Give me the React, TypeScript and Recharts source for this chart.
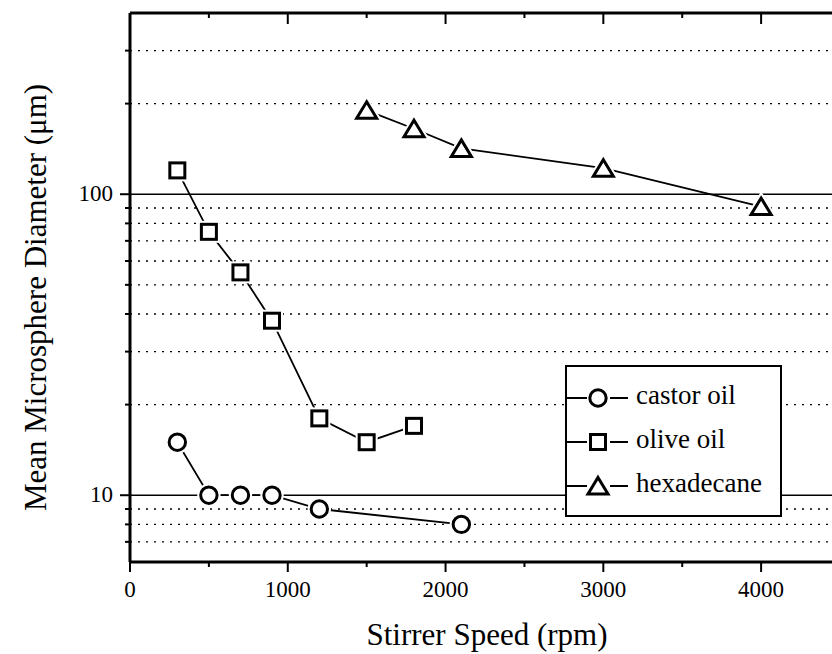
import React from "react";
import { LineChart, Line, XAxis, YAxis, ReferenceLine, Legend, Label } from "recharts";

// (log y axis)
const castorSpeed = [300, 500, 700, 900, 1200, 2100];
const castorDiameter = [15, 10, 10, 10, 9, 8];
const oliveSpeed = [300, 500, 700, 900, 1200, 1500, 1800];
const oliveDiameter = [120, 75, 55, 38, 18, 15, 17];
const hexSpeed = [1500, 1800, 2100, 3000, 4000];
const hexDiameter = [190, 165, 142, 122, 91];

const xTicks = [0, 500, 1000, 1500, 2000, 2500, 3000, 3500, 4000, 4500];
const xLabels = [0, 1000, 2000, 3000, 4000];
const yTicks = [7, 8, 9, 10, 20, 30, 40, 50, 60, 70, 80, 90, 100, 200, 300];
const yLabels = [10, 100];

const SERIF = "'Liberation Serif', 'Times New Roman', serif";
const INK = "#000";

const toPoints = (xs: number[], ys: number[]) => xs.map((x, i) => ({ x, y: ys[i] }));
const castor = toPoints(castorSpeed, castorDiameter);
const olive = toPoints(oliveSpeed, oliveDiameter);
const hexadecane = toPoints(hexSpeed, hexDiameter);

type Shape = "circle" | "square" | "triangle";

function MarkerShape({ shape, cx, cy, stroke, sw }: { shape: Shape; cx: number; cy: number; stroke: string; sw: number }) {
  const common = { fill: "#fff", stroke, strokeWidth: sw };
  if (shape === "circle") return <circle cx={cx} cy={cy} r={8.2} {...common} />;
  if (shape === "square")
    return <rect x={cx - 7.5} y={cy - 7.5} width={15} height={15} {...common} />;
  return (
    <path
      d={`M${cx},${cy - 8.5} L${cx + 10},${cy + 8} L${cx - 10},${cy + 8} Z`}
      {...common}
      strokeLinejoin="miter"
    />
  );
}

// white halo first so the joining line stops a little short of the symbol
function Marker({ shape, cx, cy, halo = false }: { shape: Shape; cx: number; cy: number; halo?: boolean }) {
  return (
    <g>
      {halo && <MarkerShape shape={shape} cx={cx} cy={cy} stroke="#fff" sw={7} />}
      <MarkerShape shape={shape} cx={cx} cy={cy} stroke={INK} sw={3} />
    </g>
  );
}

const dotFor = (shape: Shape) => (p: any) =>
  <Marker key={`${shape}-${p.index}`} shape={shape} cx={p.cx} cy={p.cy} halo />;

function XTick(props: any) {
  const { x, y, payload } = props;
  const major = payload.value % 1000 === 0;
  return (
    <g>
      <line x1={x} y1={y} x2={x} y2={y + (major ? 10 : 5)} stroke={INK} strokeWidth={2} />
      {xLabels.includes(payload.value) && (
        <text x={x} y={y + 35} textAnchor="middle" fontFamily={SERIF} fontSize={23} fill={INK}>
          {payload.value}
        </text>
      )}
    </g>
  );
}

function TopTick(props: any) {
  const { x, y, payload } = props;
  const major = payload.value % 1000 === 0;
  return <line x1={x} y1={y} x2={x} y2={y + (major ? 11 : 5)} stroke={INK} strokeWidth={2} />;
}

function YTick(props: any) {
  const { x, y, payload } = props;
  const major = yLabels.includes(payload.value);
  return (
    <g>
      <line x1={x} y1={y} x2={x - (major ? 10 : 5)} y2={y} stroke={INK} strokeWidth={2} />
      {major && (
        <text x={x - 17} y={y + 7} textAnchor="end" fontFamily={SERIF} fontSize={23} fill={INK}>
          {payload.value}
        </text>
      )}
    </g>
  );
}

const legendRows: { shape: Shape; name: string }[] = [
  { shape: "circle", name: "castor oil" },
  { shape: "square", name: "olive oil" },
  { shape: "triangle", name: "hexadecane" },
];

function LegendBox() {
  return (
    <svg width={218} height={153} style={{ display: "block" }}>
      <rect x={1} y={1} width={215} height={150} fill="#fff" stroke={INK} strokeWidth={2} />
      {legendRows.map((r, i) => {
        const cy = 33 + i * 44;
        return (
          <g key={r.name}>
            <line x1={1} y1={cy} x2={22} y2={cy} stroke={INK} strokeWidth={2} />
            <line x1={45} y1={cy} x2={63} y2={cy} stroke={INK} strokeWidth={2} />
            <Marker shape={r.shape} cx={33} cy={cy} />
            <text x={71} y={cy + 6} fontFamily={SERIF} fontSize={27} fill={INK}>
              {r.name}
            </text>
          </g>
        );
      })}
    </svg>
  );
}

export default function App() {
  return (
    <div
      style={{
        position: "absolute",
        left: 0,
        top: 0,
        width: 832,
        height: 654,
        overflow: "hidden",
        background: "#fff",
      }}
    >
      <LineChart width={850} height={654} margin={{ top: 12, right: 10, bottom: 0, left: 0 }}>
        <XAxis
          type="number"
          dataKey="x"
          domain={[0, 4500]}
          ticks={xTicks}
          interval={0}
          allowDataOverflow
          height={92}
          tickSize={0}
          tickMargin={0}
          tickLine={false}
          axisLine={{ stroke: INK, strokeWidth: 3 }}
          tick={<XTick />}
        >
          <Label
            content={(p: any) => (
              <text
                x={p.viewBox.x + p.viewBox.width / 2 + 2}
                y={p.viewBox.y + 83}
                textAnchor="middle"
                fontFamily={SERIF}
                fontSize={31}
                fill={INK}
              >
                Stirrer Speed (rpm)
              </text>
            )}
          />
        </XAxis>
        <XAxis
          xAxisId="top"
          orientation="top"
          type="number"
          dataKey="x"
          domain={[0, 4500]}
          ticks={xTicks}
          interval={0}
          allowDataOverflow
          height={1}
          tickSize={0}
          tickMargin={0}
          tickLine={false}
          axisLine={{ stroke: INK, strokeWidth: 3 }}
          tick={<TopTick />}
        />
        <YAxis
          type="number"
          dataKey="y"
          scale="log"
          domain={[6, 400]}
          ticks={yTicks}
          interval={0}
          allowDataOverflow
          width={130}
          tickSize={0}
          tickMargin={0}
          tickLine={false}
          axisLine={{ stroke: INK, strokeWidth: 3 }}
          tick={<YTick />}
        >
          <Label
            content={(p: any) => {
              const cx = 46;
              const cy = p.viewBox.y + p.viewBox.height / 2 + 10;
              return (
                <text
                  x={cx}
                  y={cy}
                  transform={`rotate(-90, ${cx}, ${cy})`}
                  textAnchor="middle"
                  fontFamily={SERIF}
                  fontSize={31}
                  fill={INK}
                >
                  Mean Microsphere Diameter (μm)
                </text>
              );
            }}
          />
        </YAxis>
        {yTicks.map((v) => (
          <ReferenceLine
            key={v}
            y={v}
            stroke={INK}
            strokeWidth={yLabels.includes(v) ? 1.6 : 1.4}
            strokeDasharray={yLabels.includes(v) ? undefined : "2 6"}
          />
        ))}
        <Line
          data={castor}
          dataKey="y"
          name="castor oil"
          stroke={INK}
          strokeWidth={1.8}
          dot={dotFor("circle")}
          isAnimationActive={false}
        />
        <Line
          data={olive}
          dataKey="y"
          name="olive oil"
          stroke={INK}
          strokeWidth={1.8}
          dot={dotFor("square")}
          isAnimationActive={false}
        />
        <Line
          data={hexadecane}
          dataKey="y"
          name="hexadecane"
          stroke={INK}
          strokeWidth={1.8}
          dot={dotFor("triangle")}
          isAnimationActive={false}
        />
        <Legend
          layout="horizontal"
          align="center"
          verticalAlign="middle"
          content={() => <LegendBox />}
          wrapperStyle={{ left: 565, top: 365, width: 218, height: 153 }}
        />
      </LineChart>
    </div>
  );
}
